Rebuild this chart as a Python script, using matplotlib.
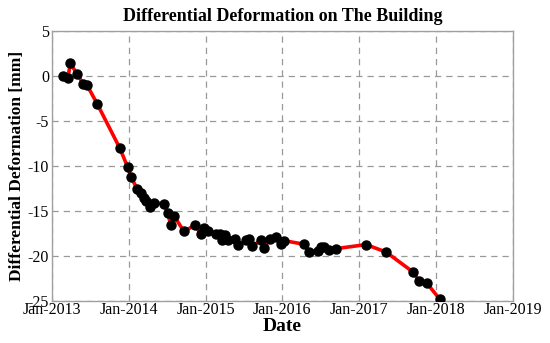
import matplotlib
matplotlib.use("Agg")
import matplotlib.pyplot as plt
import numpy as np
import pandas as pd

dates = ["2013-02-22", "2013-03-17", "2013-03-30", "2013-04-30", "2013-05-30", "2013-06-17",
         "2013-08-05", "2013-11-19", "2013-12-26", "2014-01-11", "2014-02-09", "2014-02-27",
         "2014-03-14", "2014-03-25", "2014-04-12", "2014-04-30", "2014-06-17", "2014-07-05",
         "2014-07-20", "2014-08-03", "2014-09-20", "2014-11-10", "2014-12-09", "2014-12-24",
         "2015-01-13", "2015-02-18", "2015-03-10", "2015-03-18", "2015-04-01", "2015-04-18",
         "2015-05-19", "2015-06-06", "2015-07-12", "2015-07-27", "2015-08-11", "2015-09-23",
         "2015-10-08", "2015-11-03", "2015-12-02", "2015-12-27", "2016-01-11", "2016-04-15",
         "2016-05-07", "2016-06-20", "2016-07-04", "2016-07-19", "2016-08-10", "2016-09-12",
         "2017-02-02", "2017-05-08", "2017-09-13", "2017-10-12", "2017-11-17", "2018-01-18"]
deformation = [0.0, -0.22, 1.44, 0.19, -0.84, -1.03,
               -3.14, -8.0, -10.07, -11.2, -12.5, -12.98,
               -13.5, -13.87, -14.5, -14.07, -14.2, -15.2,
               -16.6, -15.5, -17.26, -16.6, -17.5, -16.84,
               -17.26, -17.5, -17.6, -18.26, -17.7, -18.2,
               -18.07, -18.8, -18.26, -18.07, -18.9, -18.2,
               -19.07, -18.07, -17.9, -18.7, -18.3, -18.7,
               -19.5, -19.4, -19.0, -19.0, -19.37, -19.18,
               -18.73, -19.56, -21.78, -22.78, -23.0, -24.8]
year_ticks = [2013, 2014, 2015, 2016, 2017, 2018, 2019]
y_ticks = [5, 0, -5, -10, -15, -20, -25]

x = pd.to_datetime(dates)

plt.rcParams['font.family'] = ['Liberation Serif', 'DejaVu Serif']

fig = plt.figure(figsize=(5.5, 3.43), dpi=100)
ax = fig.add_axes([0.0945, 0.1224, 0.8382, 0.7872])

ax.plot(x, deformation, color='#ff0000', linewidth=2.6, zorder=2)
ax.plot(x, deformation, linestyle='none', marker='o', markersize=6.5,
        color='black', zorder=3)

tick_dates = [pd.Timestamp(f"{y}-01-01") for y in year_ticks]
ax.set_xlim(tick_dates[0], tick_dates[-1])
ax.set_xticks(tick_dates)
ax.set_xticklabels([f"Jan-{y}" for y in year_ticks], fontsize=11.5)
ax.set_ylim(-25, 5)
ax.set_yticks(y_ticks)
ax.set_yticklabels([str(v) for v in y_ticks], fontsize=11.5)

ax.grid(True, linestyle=(0, (5, 4)), color='#999999', linewidth=0.9)
ax.tick_params(axis='x', length=0, pad=1)
ax.tick_params(axis='y', length=0, pad=2)
for s in ax.spines.values():
    s.set_color('#a0a0a0')
    s.set_linewidth(1.0)

ax.set_title("Differential Deformation on The Building", fontsize=13, fontweight='bold', pad=7)
ax.set_xlabel("Date", fontsize=14, fontweight='bold', labelpad=0)
ax.set_ylabel("Differential Deformation [mm]", fontsize=12.5, fontweight='bold', labelpad=2)

fig.savefig("out.png", dpi=100)
